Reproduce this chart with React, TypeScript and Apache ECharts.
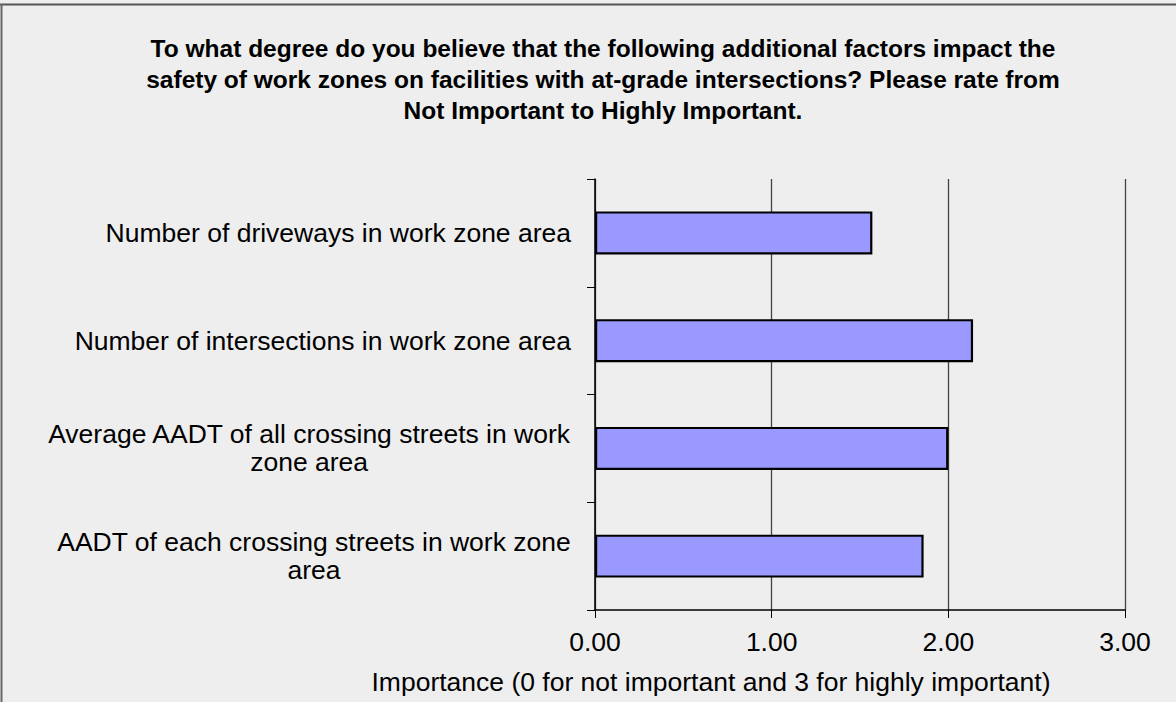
import React, { useEffect, useRef } from "react";
import * as echarts from "echarts";

const TITLE_LINES = [
  "To what degree do you believe that the following additional factors impact the",
  "safety of work zones on facilities with at-grade intersections? Please rate from",
  "Not Important to Highly Important.",
];
// top-to-bottom order as shown
const CATEGORIES = [
  "Number of driveways in work zone area",
  "Number of intersections in work zone area",
  "Average AADT of all crossing streets in work\nzone area",
  "AADT of each crossing streets in work zone\narea",
];
const VALUES = [1.57, 2.14, 2.0, 1.86];
const X_TICKS = [0, 1, 2, 3];
const X_AXIS_NAME = "Importance (0 for not important and 3 for highly important)";

const FONT = "'Liberation Sans', Arial, Helvetica, sans-serif";

export default function App() {
  const ref = useRef<HTMLDivElement>(null);
  useEffect(() => {
    document.body.style.margin = "0";
    const chart = echarts.init(ref.current!, null, { renderer: "svg" });
    const cats = [...CATEGORIES].reverse();
    const vals = [...VALUES].reverse();
    chart.setOption({
      animation: false,
      backgroundColor: "#eeeeee",
      textStyle: { fontFamily: FONT },
      grid: { left: 595, top: 179, right: 51, bottom: 92, containLabel: false },
      xAxis: {
        type: "value",
        min: X_TICKS[0],
        max: X_TICKS[X_TICKS.length - 1],
        interval: 1,
        axisLine: { show: true, lineStyle: { color: "#000", width: 1.5 } },
        axisTick: { show: true, length: 8, lineStyle: { color: "#000" } },
        splitLine: { show: true, lineStyle: { color: "#444", width: 1.3 } },
        axisLabel: {
          margin: 18,
          fontSize: 26.5,
          color: "#000",
          fontFamily: FONT,
          formatter: (v: number) => v.toFixed(2),
        },
      },
      yAxis: {
        type: "category",
        data: cats,
        axisLine: { show: true, lineStyle: { color: "#000", width: 1.5 } },
        axisTick: { show: true, length: 8, lineStyle: { color: "#000" } },
        splitLine: { show: false },
        axisLabel: {
          margin: 24,
          fontSize: 26.5,
          color: "#000",
          fontFamily: FONT,
          align: "right",
          formatter: (v: string) =>
            v
              .split("\n")
              .map((l) => `{c|${l}}`)
              .join("\n"),
          rich: {
            c: { align: "center", fontSize: 26.5, lineHeight: 28, color: "#000", fontFamily: FONT },
          },
        },
      },
      series: [
        {
          type: "bar",
          data: vals,
          barWidth: 43,
          itemStyle: { color: "#9999ff", borderColor: "#000", borderWidth: 2.2 },
        },
      ],
      graphic: [
        {
          type: "line",
          shape: { x1: 0, y1: 4.5, x2: 1176, y2: 4.5 },
          style: { stroke: "#555", lineWidth: 2 },
        },
        {
          type: "line",
          shape: { x1: 1.5, y1: 4, x2: 1.5, y2: 702 },
          style: { stroke: "#666", lineWidth: 2 },
        },
        {
          type: "text",
          x: 603,
          y: 33,
          style: {
            text: TITLE_LINES.join("\n"),
            align: "center",
            verticalAlign: "top",
            fontSize: 24.5,
            fontWeight: "bold",
            lineHeight: 31,
            fontFamily: FONT,
            fill: "#000",
          },
        },
        {
          type: "text",
          x: 711,
          y: 682,
          style: {
            text: X_AXIS_NAME,
            align: "center",
            verticalAlign: "middle",
            fontSize: 26.5,
            fontFamily: FONT,
            fill: "#000",
          },
        },
      ],
    });
    return () => chart.dispose();
  }, []);
  return <div ref={ref} style={{ width: 1176, height: 702 }} />;
}
